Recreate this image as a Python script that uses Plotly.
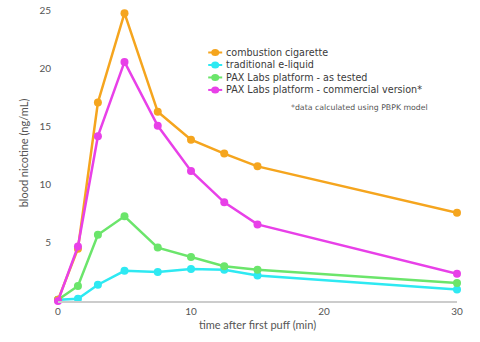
import plotly.graph_objects as go

time_min = [0, 1.5, 3, 5, 7.5, 10, 12.5, 15, 30]
combustion = [0.1, 4.5, 17.1, 24.8, 16.3, 13.9, 12.7, 11.6, 7.6]
traditional = [0.1, 0.2, 1.4, 2.6, 2.5, 2.75, 2.7, 2.2, 1.0]
pax_tested = [0.1, 1.3, 5.7, 7.3, 4.6, 3.8, 3.0, 2.7, 1.55]
pax_commercial = [0.0, 4.7, 14.2, 20.6, 15.1, 11.2, 8.5, 6.6, 2.35]

series_names = ["combustion cigarette", "traditional e-liquid",
                "PAX Labs platform - as tested",
                "PAX Labs platform - commercial version*"]
series_values = [combustion, traditional, pax_tested, pax_commercial]
colors = ["#F5A51E", "#2EE9F2", "#6BE56B", "#E840E8"]
draw_order = [1, 2, 0, 3]

x_ticks = [0, 10, 20, 30]
y_ticks = [5, 10, 15, 20, 25]

FONT = "Lato, Open Sans, sans-serif"
LEGFONT = "DejaVu Sans, sans-serif"
TXT = "#555555"

fig = go.Figure()
for i in draw_order:
    fig.add_trace(go.Scatter(
        x=time_min, y=series_values[i], name=series_names[i],
        mode="lines+markers",
        line=dict(color=colors[i], width=2.5),
        marker=dict(color=colors[i], size=8),
        cliponaxis=False, showlegend=False))

# manual compact legend (plot area: top px 5, bottom px 301)
PLOT_TOP, PLOT_H = 5, 296
LEG_SIZE = 9.6
line_px = 1.3 * LEG_SIZE
first_px = 52.5
leg_x = 0.394


def py2paper(py):
    return (PLOT_TOP + PLOT_H - py) / PLOT_H


shapes = []
for k, c in enumerate(colors):
    yy = py2paper(first_px + k * line_px)
    shapes.append(dict(type="line", xref="paper", yref="paper",
                       xsizemode="pixel", ysizemode="pixel",
                       xanchor=leg_x, yanchor=yy,
                       x0=-7, x1=7, y0=0, y1=0,
                       line=dict(color=c, width=2)))
    shapes.append(dict(type="circle", xref="paper", yref="paper",
                       xsizemode="pixel", ysizemode="pixel",
                       xanchor=leg_x, yanchor=yy,
                       x0=-4, x1=4, y0=-3.5, y1=3.5,
                       fillcolor=c, line=dict(width=0)))

annotations = [
    dict(x=leg_x, y=py2paper(first_px + 1.5 * line_px), xref="paper", yref="paper",
         xshift=9, text="<br>".join(series_names), showarrow=False,
         xanchor="left", yanchor="middle", align="left",
         font=dict(family=LEGFONT, size=LEG_SIZE, color="#3a3a3a")),
    dict(x=0.578, y=py2paper(107), xref="paper", yref="paper",
         text="*data calculated using PBPK model", showarrow=False,
         xanchor="left", yanchor="middle",
         font=dict(family=LEGFONT, size=7.8, color="#555555")),
]

fig.update_layout(
    width=480, height=342,
    margin=dict(l=58, r=23, t=PLOT_TOP, b=41),
    paper_bgcolor="white", plot_bgcolor="white",
    font=dict(family=FONT, color=TXT, size=10),
    shapes=shapes, annotations=annotations,
    xaxis=dict(range=[0, 30], tickvals=x_ticks, showgrid=False, zeroline=False,
               showline=True, linecolor="#cccccc", linewidth=1.5,
               ticks="", ticklen=0,
               title=dict(text="time after first puff (min)", standoff=6,
                          font=dict(size=11, color=TXT))),
    yaxis=dict(range=[0, 25.5], tickvals=y_ticks, showgrid=False, zeroline=False,
               showline=False, ticks="", ticklabelstandoff=6,
               title=dict(text="blood nicotine (ng/mL)", standoff=8,
                          font=dict(size=11, color=TXT))),
)

fig.write_html("out.html")
